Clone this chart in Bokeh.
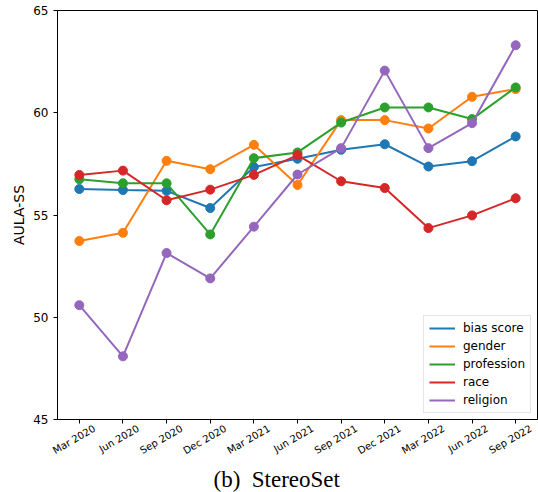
import math
from bokeh.plotting import figure
from bokeh.models import (Legend, LegendItem, Title, Range1d,
                          LinearAxis, LinearScale, FixedTicker)
from bokeh.embed import file_html
from bokeh.resources import INLINE

dates = ["Mar 2020", "Jun 2020", "Sep 2020", "Dec 2020", "Mar 2021", "Jun 2021",
         "Sep 2021", "Dec 2021", "Mar 2022", "Jun 2022", "Sep 2022"]
bias_score = [56.27, 56.22, 56.18, 55.34, 57.35, 57.75, 58.19, 58.46, 57.37, 57.63, 58.84]
gender = [53.73, 54.13, 57.65, 57.24, 58.43, 56.47, 59.64, 59.64, 59.23, 60.78, 61.16]
profession = [56.75, 56.55, 56.55, 54.05, 57.78, 58.06, 59.52, 60.26, 60.26, 59.69, 61.24]
race = [56.96, 57.17, 55.72, 56.24, 56.96, 57.93, 56.65, 56.32, 54.36, 54.98, 55.82]
religion = [50.59, 48.09, 53.14, 51.90, 54.43, 56.98, 58.27, 62.06, 58.27, 59.49, 63.30]
y_ticks = [45, 50, 55, 60, 65]

series = [("bias score", bias_score, "#1f77b4"),
          ("gender", gender, "#ff7f0e"),
          ("profession", profession, "#2ca02c"),
          ("race", race, "#d62728"),
          ("religion", religion, "#9467bd")]

n = len(dates)
xpos = list(range(n))  # category positions
shift = 0.35  # label anchor shift so rotated labels sit centred under ticks

p = figure(x_range=Range1d(-0.5, n - 0.5), y_range=Range1d(45, 65),
           width=538, height=492, output_backend="svg", toolbar_location=None,
           min_border_left=57, min_border_right=1, min_border_top=10, min_border_bottom=73)

p.extra_x_ranges = {"lab": Range1d(-0.5 - shift, n - 0.5 - shift)}
p.extra_x_scales = {"lab": LinearScale()}

p.xgrid.visible = False
p.ygrid.visible = False
p.outline_line_color = "black"
p.outline_line_width = 1
p.background_fill_color = "white"
p.border_fill_color = "white"

for ax in (p.xaxis[0], p.yaxis[0]):
    ax.axis_line_color = "black"
    ax.major_tick_line_color = "black"
    ax.major_tick_out = 4
    ax.major_tick_in = 0
    ax.minor_tick_line_color = None
    ax.major_label_text_font = "DejaVu Sans"
    ax.major_label_text_color = "black"

p.yaxis.ticker = y_ticks
p.yaxis.major_label_standoff = 5
p.yaxis.major_label_text_font_size = "12px"
p.yaxis.axis_label = "AULA-SS"
p.yaxis.axis_label_text_font = "DejaVu Sans"
p.yaxis.axis_label_text_font_size = "14px"
p.yaxis.axis_label_text_font_style = "normal"
p.yaxis.axis_label_text_color = "black"
p.yaxis.axis_label_standoff = 3

# main x axis: ticks only
p.xaxis.ticker = FixedTicker(ticks=xpos)
p.xaxis.major_label_overrides = {i: "" for i in xpos}
p.xaxis.major_label_text_font_size = "1px"
p.xaxis.major_label_standoff = 0

# label axis: rotated tick labels
lab_axis = LinearAxis(x_range_name="lab",
                      ticker=FixedTicker(ticks=xpos),
                      major_label_overrides={i: d for i, d in zip(xpos, dates)},
                      axis_line_color=None, major_tick_line_color=None,
                      minor_tick_line_color=None, major_tick_out=0, major_tick_in=0,
                      major_label_orientation=math.pi / 6, major_label_standoff=4,
                      major_label_text_font="DejaVu Sans", major_label_text_font_size="10px",
                      major_label_text_color="black")
p.add_layout(lab_axis, "below")

items = []
for name, vals, color in series:
    r = p.line(xpos, vals, line_color=color, line_width=2)
    p.scatter(xpos, vals, size=9, fill_color=color, line_color=color)
    items.append(LegendItem(label=name, renderers=[r]))

legend = Legend(items=items, location="bottom_right")
legend.label_text_font = "DejaVu Sans"
legend.label_text_font_size = "12px"
legend.label_text_color = "black"
legend.glyph_width = 26
legend.glyph_height = 14
legend.label_height = 14
legend.spacing = 4
legend.padding = 5
legend.margin = 6
legend.label_standoff = 8
legend.border_line_color = "#cccccc"
legend.border_line_width = 1
legend.background_fill_alpha = 0.8
p.add_layout(legend)

caption = Title(text="(b)\u00a0 StereoSet", align="left", offset=156,
                text_font="Liberation Serif", text_font_size="23px",
                text_font_style="normal", text_color="black", standoff=0)
p.add_layout(caption, "below")

open("out.html", "w").write(file_html(p, INLINE))
